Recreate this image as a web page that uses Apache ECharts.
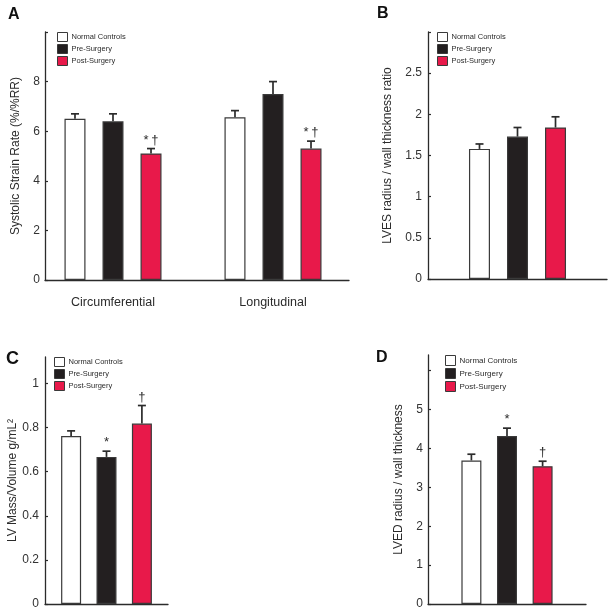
<!DOCTYPE html>
<html>
<head>
<meta charset="utf-8">
<script src="https://cdn.jsdelivr.net/npm/echarts@6/dist/echarts.min.js"></script>
<style>
html, body { margin: 0; padding: 0; background: #fff; }
#main { width: 614px; height: 615px; }
</style>
</head>
<body>
<div id="main"></div>
<script>
// groups shown in every panel
var groupNames = ['Normal Controls', 'Pre-Surgery', 'Post-Surgery'];
var groupColors = ['#ffffff', '#231f20', '#e8194a'];

// panel A - systolic strain rate
var aCats = ['Circumferential', 'Longitudinal'];
var aNormal = [6.5, 6.56];
var aNormalErr = [0.2, 0.27];
var aPre = [6.4, 7.5];
var aPreErr = [0.3, 0.5];
var aPost = [5.1, 5.3];
var aPostErr = [0.2, 0.3];
var aPostMarks = ['*\u2009\u2020', '*\u2009\u2020'];
var aTicks = [0, 2, 4, 6, 8, 10];
var aLabels = [0, 2, 4, 6, 8];

// panel B - LVES radius / wall thickness
var bCats = [''];
var bNormal = [1.58];
var bNormalErr = [0.06];
var bPre = [1.73];
var bPreErr = [0.11];
var bPost = [1.84];
var bPostErr = [0.13];
var bTicks = [0, 0.5, 1, 1.5, 2, 2.5, 3];
var bLabels = [0, 0.5, 1, 1.5, 2, 2.5];

// panel C - LV mass / volume
var cCats = [''];
var cNormal = [0.762];
var cNormalErr = [0.023];
var cPre = [0.667];
var cPreErr = [0.026];
var cPost = [0.818];
var cPostErr = [0.082];
var cPreMarks = ['*'];
var cPostMarks = ['\u2020'];
var cTicks = [0, 0.2, 0.4, 0.6, 0.8, 1];
var cLabels = [0, 0.2, 0.4, 0.6, 0.8, 1];

// panel D - LVED radius / wall thickness
var dCats = [''];
var dNormal = [3.69];
var dNormalErr = [0.16];
var dPre = [4.32];
var dPreErr = [0.2];
var dPost = [3.54];
var dPostErr = [0.13];
var dPreMarks = ['*'];
var dPostMarks = ['\u2020'];
var dTicks = [0, 1, 2, 3, 4, 5, 6];
var dLabels = [0, 1, 2, 3, 4, 5];

var FONT = "'Liberation Sans', Arial, sans-serif";
var INK = '#2b2b2b';

var chart = echarts.init(document.getElementById('main'));

function valueAxis(grid, max, ticks, labels, name, nameGap, margin, offset) {
    return {
        type: 'value', gridIndex: grid, min: 0, max: max,
        offset: offset || 0,
        name: name, nameLocation: 'middle', nameGap: nameGap,
        nameTextStyle: { fontFamily: FONT, fontSize: 12, color: INK },
        axisLine: { show: true, lineStyle: { color: INK, width: 1.3 } },
        axisTick: { show: true, inside: true, length: 3, customValues: ticks, lineStyle: { color: INK, width: 1.2 } },
        axisLabel: { customValues: labels, margin: margin, fontFamily: FONT, fontSize: 12, color: '#333' },
        splitLine: { show: false }
    };
}

function catAxis(grid, cats, showLine, showLabel) {
    return {
        type: 'category', gridIndex: grid, data: cats,
        axisLine: { show: showLine, lineStyle: { color: INK, width: 1.3 } },
        axisTick: { show: false },
        axisLabel: { show: showLabel, margin: 16, fontFamily: FONT, fontSize: 12.5, color: INK },
        splitLine: { show: false }
    };
}

function barSeries(axis, k, values, bw, gap) {
    return {
        type: 'bar', name: groupNames[k], xAxisIndex: axis, yAxisIndex: axis,
        data: values, barWidth: bw, barGap: gap,
        itemStyle: { color: groupColors[k], borderColor: '#3a3a3a', borderWidth: 1.2 },
        silent: true
    };
}

// error bars (upper whisker only) plus significance marks
function errSeries(axis, groups, bw, gapFrac) {
    var data = [];
    var marks = [];
    for (var k = 0; k < groups.length; k++) {
        var g = groups[k];
        for (var i = 0; i < g.values.length; i++) {
            data.push([i, g.values[i], g.errs[i], k]);
            marks.push(g.marks ? g.marks[i] : '');
        }
    }
    return {
        type: 'custom', xAxisIndex: axis, yAxisIndex: axis, silent: true,
        data: data,
        encode: { x: 0, y: 1 },
        renderItem: function (params, api) {
            var cat = api.value(0), val = api.value(1), err = api.value(2), k = api.value(3);
            var base = api.coord([cat, val]);
            var top = api.coord([cat, val + err]);
            var x = base[0] + (k - 1) * bw * (1 + gapFrac);
            var children = [
                { type: 'line', shape: { x1: x, y1: base[1], x2: x, y2: top[1] }, style: { stroke: INK, lineWidth: 1.7 } },
                { type: 'line', shape: { x1: x - 4, y1: top[1], x2: x + 4, y2: top[1] }, style: { stroke: INK, lineWidth: 1.7 } }
            ];
            var m = marks[params.dataIndex];
            if (m) {
                children.push({
                    type: 'text',
                    style: { text: m, x: x, y: top[1] - 2, align: 'center', verticalAlign: 'bottom',
                             font: '13px ' + FONT, fill: INK }
                });
            }
            return { type: 'group', children: children };
        },
        z: 3
    };
}

function legendAt(left, top, size, gap, w, h) {
    return {
        orient: 'vertical', left: left, top: top, padding: 0,
        itemWidth: w, itemHeight: h, itemGap: gap,
        icon: 'rect', selectedMode: false,
        data: groupNames,
        textStyle: { fontFamily: FONT, fontSize: size, color: INK, padding: [0, 0, 0, -1] },
        itemStyle: { borderColor: '#3a3a3a', borderWidth: 1 }
    };
}

function letter(t, left, top, size) {
    return { text: t, left: left, top: top, padding: 0,
             textStyle: { fontFamily: FONT, fontSize: size, fontWeight: 'bold', color: '#111' } };
}

var option = {
    backgroundColor: '#fff',
    animation: false,
    title: [
        letter('A', 8, 7, 16),
        letter('B', 377, 6, 16),
        letter('C', 6, 350, 18),
        letter('D', 376, 350, 16)
    ],
    legend: [
        legendAt(57, 32, 7.5, 2, 10, 9),
        legendAt(437, 32, 7.5, 2, 10, 9),
        legendAt(54, 357, 7.5, 2, 10, 9),
        legendAt(445, 355, 8, 2, 10, 10)
    ],
    grid: [
        { left: 33, top: 32, width: 320, height: 248 },
        { left: 428, top: 32, width: 179, height: 247 },
        { left: 45, top: 357, width: 123, height: 247 },
        { left: 428, top: 355, width: 158, height: 249 },
        { left: 45, top: 32, width: 304, height: 248 }   // baseline of panel A
    ],
    xAxis: [
        catAxis(0, aCats, false, true),
        catAxis(1, bCats, true, false),
        catAxis(2, cCats, true, false),
        catAxis(3, dCats, true, false),
        { type: 'value', gridIndex: 4, min: 0, max: 1,
          axisLine: { show: true, lineStyle: { color: INK, width: 1.3 } },
          axisTick: { show: false }, axisLabel: { show: false }, splitLine: { show: false } }
    ],
    yAxis: [
        valueAxis(0, 10, aTicks, aLabels, 'Systolic Strain Rate (%/%RR)', 23, 5, -12),
        valueAxis(1, 3, bTicks, bLabels, 'LVES radius / wall thickness ratio', 34, 6),
        valueAxis(2, 1.12, cTicks, cLabels, 'LV Mass/Volume g/mL\u00b2', 24, 6),
        valueAxis(3, 6.4, dTicks, dLabels, 'LVED radius / wall thickness', 23, 5),
        { type: 'value', gridIndex: 4, min: 0, max: 1, show: false }
    ],
    series: [
        barSeries(0, 0, aNormal, 21, '81%'),
        barSeries(0, 1, aPre, 21, '81%'),
        barSeries(0, 2, aPost, 21, '81%'),
        errSeries(0, [
            { values: aNormal, errs: aNormalErr },
            { values: aPre, errs: aPreErr },
            { values: aPost, errs: aPostErr, marks: aPostMarks }
        ], 21, 0.81),

        barSeries(1, 0, bNormal, 21, '81%'),
        barSeries(1, 1, bPre, 21, '81%'),
        barSeries(1, 2, bPost, 21, '81%'),
        errSeries(1, [
            { values: bNormal, errs: bNormalErr },
            { values: bPre, errs: bPreErr },
            { values: bPost, errs: bPostErr }
        ], 21, 0.81),

        barSeries(2, 0, cNormal, 20, '77%'),
        barSeries(2, 1, cPre, 20, '77%'),
        barSeries(2, 2, cPost, 20, '77%'),
        errSeries(2, [
            { values: cNormal, errs: cNormalErr },
            { values: cPre, errs: cPreErr, marks: cPreMarks },
            { values: cPost, errs: cPostErr, marks: cPostMarks }
        ], 20, 0.77),

        barSeries(3, 0, dNormal, 20, '78%'),
        barSeries(3, 1, dPre, 20, '78%'),
        barSeries(3, 2, dPost, 20, '78%'),
        errSeries(3, [
            { values: dNormal, errs: dNormalErr },
            { values: dPre, errs: dPreErr, marks: dPreMarks },
            { values: dPost, errs: dPostErr, marks: dPostMarks }
        ], 20, 0.78)
    ]
};

chart.setOption(option);
</script>
</body>
</html>
